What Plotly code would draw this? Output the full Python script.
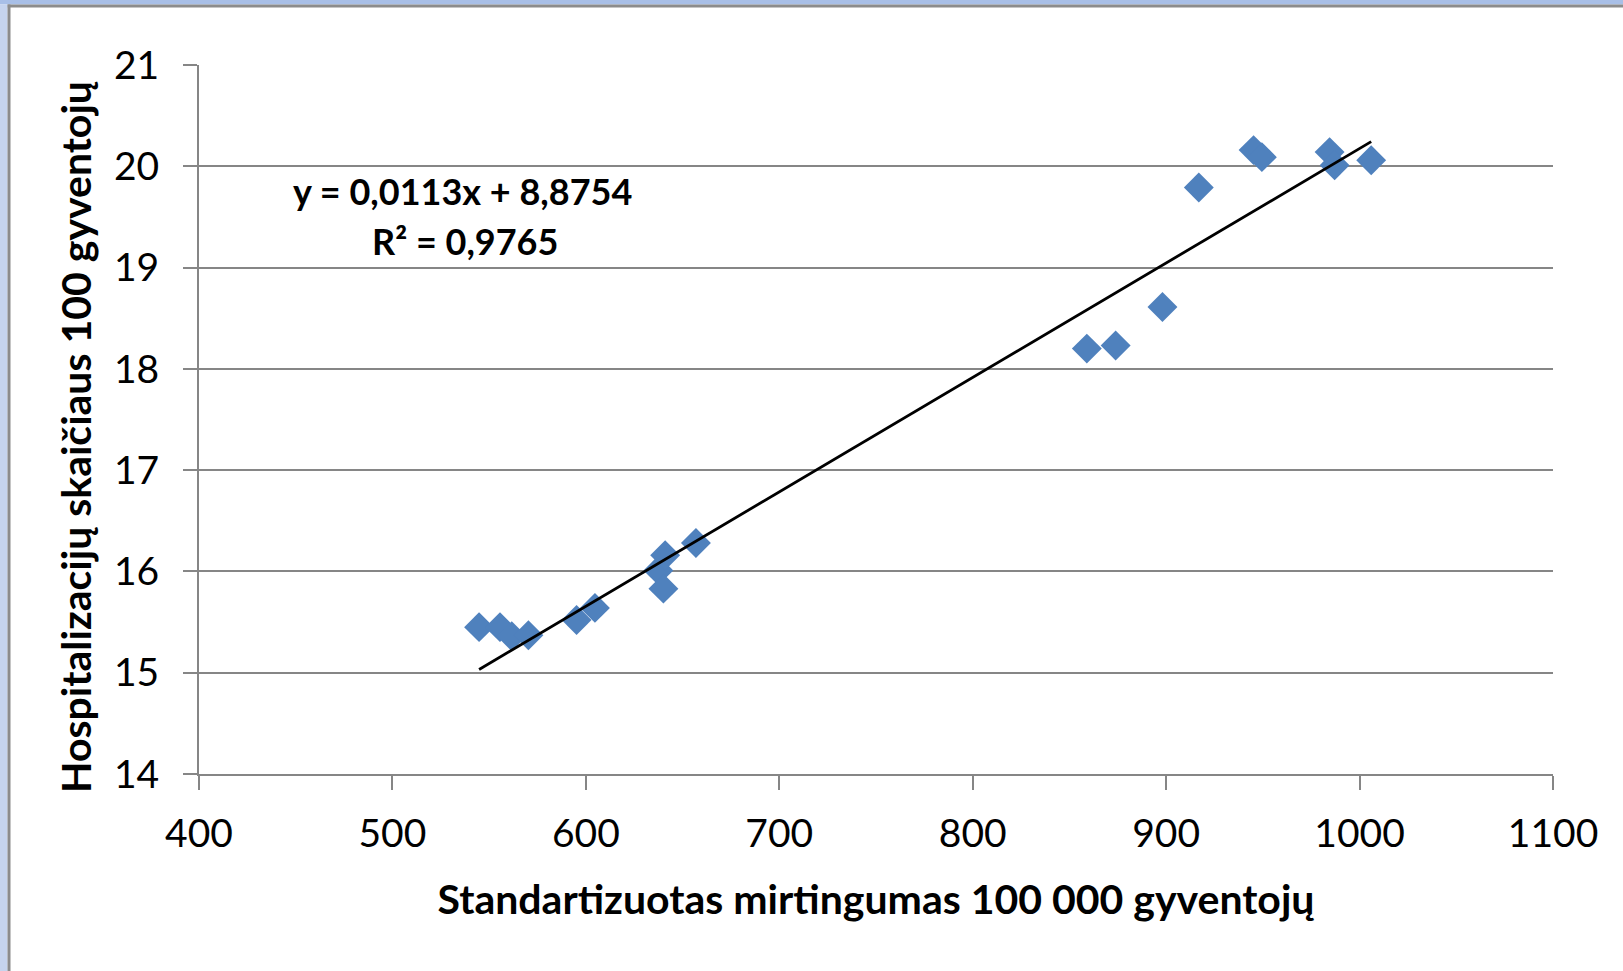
import plotly.graph_objects as go

# ---- data ----
mortality = [544.8, 555.6, 561.7, 570.3, 595.2, 604.7, 637.5, 641.0, 640.1, 656.9,
             859.0, 873.9, 898.1, 916.9, 945.2, 949.5, 984.5, 987.1, 1006.0]
hospitalization = [15.45, 15.45, 15.36, 15.37, 15.52, 15.64, 16.01, 16.16, 15.83, 16.28,
                   18.20, 18.23, 18.61, 19.79, 20.16, 20.09, 20.14, 20.01, 20.06]
trend_slope = 0.0113
trend_intercept = 8.8754
r_squared_text = "0,9765"
x_ticks = [400, 500, 600, 700, 800, 900, 1000, 1100]
y_ticks = [14, 15, 16, 17, 18, 19, 20, 21]

x_title = "Standartizuotas mirtingumas 100 000 gyventojų"
y_title = "Hospitalizacijų skaičiaus 100 gyventojų"

W, H = 1623, 971
L, R, T, B = 199, 1553, 65, 774
GRID = "#868686"
FONT = "Lato"

def px_x(px):
    return (px - L) / (R - L)

def px_y(py):
    return (B - py) / (B - T)

fig = go.Figure()

fig.add_trace(go.Scatter(
    x=mortality, y=hospitalization, mode="markers",
    marker=dict(symbol="diamond", size=23, color="#4F81BD", line=dict(width=0)),
    showlegend=False, hoverinfo="x+y"))

x0, x1 = min(mortality), max(mortality)
fig.add_trace(go.Scatter(
    x=[x0, x1], y=[trend_slope * x0 + trend_intercept, trend_slope * x1 + trend_intercept],
    mode="lines", line=dict(color="black", width=2.8), showlegend=False, hoverinfo="skip"))

eq_text = "y = " + f"{trend_slope:.4f}".replace(".", ",") + "x + " + f"{trend_intercept:.4f}".replace(".", ",")
fig.add_annotation(
    x=px_x(462), y=px_y(191), xref="paper", yref="paper",
    text=eq_text, showarrow=False, xanchor="center", yanchor="middle",
    font=dict(family=FONT, size=36, color="black", weight="bold"))
fig.add_annotation(
    x=px_x(465), y=px_y(241), xref="paper", yref="paper",
    text="R² = " + r_squared_text, showarrow=False, xanchor="center", yanchor="middle",
    font=dict(family=FONT, size=36, color="black", weight="bold"))

# y-axis title (slightly below centre, as in the original)
fig.add_annotation(
    x=px_x(75), y=px_y(437), xref="paper", yref="paper",
    text=y_title, textangle=-90, showarrow=False, xanchor="center", yanchor="middle",
    font=dict(family=FONT, size=41, color="black", weight="bold"))

# outer frame (top and left blue/grey border)
shapes = [
    dict(type="rect", xref="paper", yref="paper", x0=px_x(0), x1=px_x(W), y0=px_y(0), y1=px_y(4.5),
         fillcolor="#A8BFE7", line=dict(width=0), layer="below"),
    dict(type="rect", xref="paper", yref="paper", x0=px_x(7.5), x1=px_x(W), y0=px_y(4.5), y1=px_y(7.5),
         fillcolor="#8C8C8C", line=dict(width=0), layer="below"),
    dict(type="rect", xref="paper", yref="paper", x0=px_x(0), x1=px_x(7.5), y0=px_y(4.5), y1=px_y(H),
         fillcolor="#C6D4EE", line=dict(width=0), layer="below"),
    dict(type="rect", xref="paper", yref="paper", x0=px_x(7.5), x1=px_x(10.5), y0=px_y(4.5), y1=px_y(H),
         fillcolor="#8C8C8C", line=dict(width=0), layer="below"),
]

fig.update_layout(
    width=W, height=H,
    margin=dict(l=L, r=W - R, t=T, b=H - B, pad=0),
    paper_bgcolor="white", plot_bgcolor="white",
    shapes=shapes,
    font=dict(family=FONT, color="black"),
)

fig.update_xaxes(
    range=[400, 1100], tickvals=x_ticks, ticktext=[str(v) for v in x_ticks],
    showgrid=False, zeroline=False,
    showline=True, linecolor=GRID, linewidth=2,
    ticks="outside", ticklen=14, tickwidth=2, tickcolor=GRID,
    tickfont=dict(family=FONT, size=39, color="black"),
    ticklabelstandoff=10,
    title=dict(text=x_title, font=dict(family=FONT, size=41, color="black", weight="bold"), standoff=32),
)
fig.update_yaxes(
    range=[14, 21], tickvals=y_ticks, ticktext=[str(v) for v in y_ticks],
    showgrid=True, gridcolor=GRID, gridwidth=2, zeroline=False,
    showline=True, linecolor=GRID, linewidth=2,
    ticks="outside", ticklen=14, tickwidth=2, tickcolor=GRID,
    tickfont=dict(family=FONT, size=39, color="black"),
    ticklabelstandoff=16,
)

fig.write_html("out.html", config={"displayModeBar": False},
               post_script="document.body.style.margin='0';")
